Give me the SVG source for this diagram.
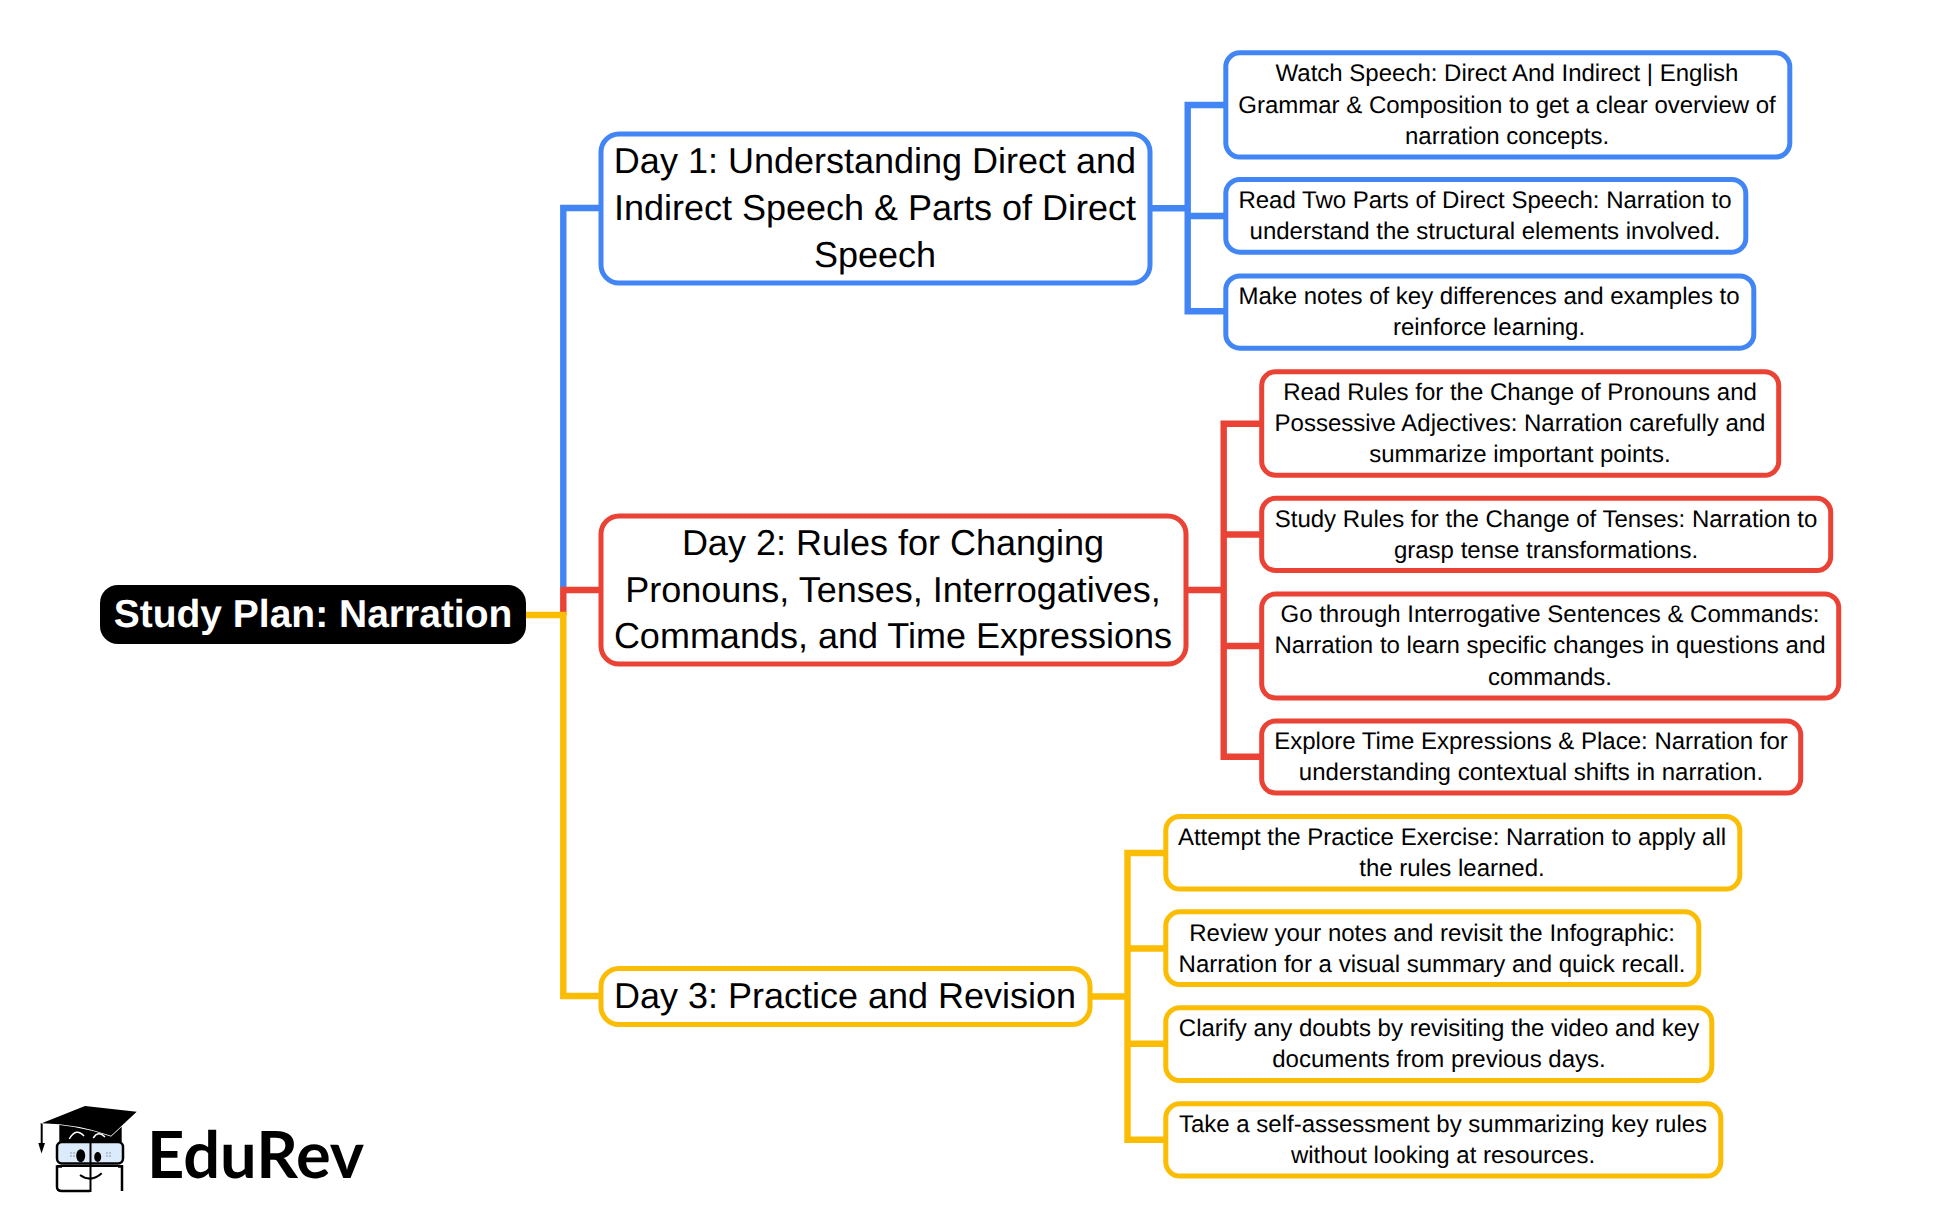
<svg xmlns="http://www.w3.org/2000/svg" width="1942" height="1229" viewBox="0 0 1942 1229">
<style>
text{font-family:"Liberation Sans",Arial,sans-serif;text-anchor:middle;fill:#000;text-rendering:geometricPrecision}
.c{font-size:24px}.d{font-size:36px}
.r{font-size:39px;font-weight:700;fill:#fff}
rect{fill:#fff;stroke-width:5}
.conn path{fill:none;stroke-width:6.400;stroke-linejoin:miter}
.b rect{stroke:#4285f4}.e rect{stroke:#ea4335}.y rect{stroke:#fbbc04}
</style>
<rect width="1942" height="1229" style="fill:#fff;stroke:none"/>
<g id="root"><rect x="100" y="585" width="426" height="59" rx="18" style="fill:#000;stroke:none"/><text class="r" x="313" y="627">Study Plan: Narration</text></g>
<g id="day1" class="b"><rect x="601" y="134" width="549" height="149" rx="18"/><text class="d" x="875" y="173">Day 1: Understanding Direct and</text><text class="d" x="875" y="220">Indirect Speech &amp; Parts of Direct</text><text class="d" x="875" y="267">Speech</text></g>
<g id="day2" class="e"><rect x="601" y="516" width="585" height="148" rx="18"/><text class="d" x="893" y="555">Day 2: Rules for Changing</text><text class="d" x="893" y="602">Pronouns, Tenses, Interrogatives,</text><text class="d" x="893" y="648">Commands, and Time Expressions</text></g>
<g id="day3" class="y"><rect x="601" y="968.500" width="489" height="56" rx="18"/><text class="d" x="845" y="1008">Day 3: Practice and Revision</text></g>
<g id="n1" class="b"><rect x="1225.800" y="52.800" width="564" height="104.200" rx="14"/><text class="c" x="1507" y="81">Watch Speech: Direct And Indirect | English</text><text class="c" x="1507" y="112.500">Grammar &amp; Composition to get a clear overview of</text><text class="c" x="1507" y="144">narration concepts.</text></g>
<g id="n2" class="b"><rect x="1225.800" y="179.500" width="520" height="72.700" rx="14"/><text class="c" x="1485" y="208">Read Two Parts of Direct Speech: Narration to</text><text class="c" x="1485" y="239">understand the structural elements involved.</text></g>
<g id="n3" class="b"><rect x="1225.800" y="276" width="528" height="72.200" rx="14"/><text class="c" x="1489" y="304">Make notes of key differences and examples to</text><text class="c" x="1489" y="335">reinforce learning.</text></g>
<g id="n4" class="e"><rect x="1261.700" y="371.700" width="517" height="103.600" rx="14"/><text class="c" x="1520" y="400">Read Rules for the Change of Pronouns and</text><text class="c" x="1520" y="431">Possessive Adjectives: Narration carefully and</text><text class="c" x="1520" y="462">summarize important points.</text></g>
<g id="n5" class="e"><rect x="1261.700" y="498.300" width="569" height="72.200" rx="14"/><text class="c" x="1546" y="527">Study Rules for the Change of Tenses: Narration to</text><text class="c" x="1546" y="558">grasp tense transformations.</text></g>
<g id="n6" class="e"><rect x="1261.700" y="594" width="577" height="104" rx="14"/><text class="c" x="1550" y="622">Go through Interrogative Sentences &amp; Commands:</text><text class="c" x="1550" y="653">Narration to learn specific changes in questions and</text><text class="c" x="1550" y="685">commands.</text></g>
<g id="n7" class="e"><rect x="1261.700" y="721" width="539" height="72" rx="14"/><text class="c" x="1531" y="749">Explore Time Expressions &amp; Place: Narration for</text><text class="c" x="1531" y="780">understanding contextual shifts in narration.</text></g>
<g id="n8" class="y"><rect x="1165.800" y="816.500" width="574" height="72.500" rx="14"/><text class="c" x="1452" y="845">Attempt the Practice Exercise: Narration to apply all</text><text class="c" x="1452" y="876">the rules learned.</text></g>
<g id="n9" class="y"><rect x="1165.800" y="911.800" width="533" height="72.700" rx="14"/><text class="c" x="1432" y="941">Review your notes and revisit the Infographic:</text><text class="c" x="1432" y="972">Narration for a visual summary and quick recall.</text></g>
<g id="n10" class="y"><rect x="1165.800" y="1007.700" width="546" height="72.800" rx="14"/><text class="c" x="1439" y="1036">Clarify any doubts by revisiting the video and key</text><text class="c" x="1439" y="1067">documents from previous days.</text></g>
<g id="n11" class="y"><rect x="1165.800" y="1103.800" width="555" height="72.200" rx="14"/><text class="c" x="1443" y="1132">Take a self-assessment by summarizing key rules</text><text class="c" x="1443" y="1163">without looking at resources.</text></g>
<g id="connectors" class="conn">
<path d="M563.300 587V208H603M1150 208.300H1187.700M1228 105H1187.700V311.300H1228M1187.700 216H1228" stroke="#4285f4"/>
<path d="M563.300 615V590H603M1186 590H1223.700M1264 423.700H1223.700V756.700H1264M1223.700 534.500H1264M1223.700 646H1264" stroke="#ea4335"/>
<path d="M526 615H563.300V996H603M1090 996.500H1127.500M1168 853H1127.500V1139.700H1168M1127.500 948.500H1168M1127.500 1043.700H1168" stroke="#fbbc04"/>
</g>
<g id="logo">
<path d="M41.700 1123V1143" stroke="#000" stroke-width="2" fill="none"/>
<path d="M38.300 1143L45 1143L41.500 1153.500Z" fill="#000"/>
<path d="M59.300 1124H121.700V1142H59.300Z" fill="#000"/>
<path d="M69.300 1139Q76 1127 84 1136M93.300 1138Q98 1130 105 1137" fill="none" stroke="#fff" stroke-width="1.500"/>
<path d="M41.700 1123.300L85 1106L136.700 1111.700L111 1135.700Q78 1124 41.700 1123.300Z" fill="#000" stroke="#fff" stroke-width="1.500" paint-order="stroke"/>
<rect x="57" y="1142" width="66" height="21.500" rx="5" style="fill:#dcebfb;stroke:#000;stroke-width:2.500"/>
<path d="M62 1166.500H57V1187Q57 1191 62 1191H90M118 1166.500H122V1191" fill="none" stroke="#000" stroke-width="2.500"/>
<path d="M57 1166H123" stroke="#000" stroke-width="2" fill="none"/>
<path d="M90.500 1140V1192" stroke="#000" stroke-width="2"/>
<path d="M80 1175Q91 1183 101.700 1173.300" fill="none" stroke="#000" stroke-width="2"/>
<ellipse cx="80.700" cy="1155.700" rx="4.500" ry="6.500" fill="#000"/><ellipse cx="97.700" cy="1157" rx="3.500" ry="5" fill="#000"/>
<path d="M70 1153H75M70 1156H75M106 1153H111M106 1156H111" stroke="#a8b6c2" stroke-width="1.500" stroke-dasharray="2 1"/>
<text x="147" y="1178.300" style="font-family:Lato,sans-serif;font-weight:700;font-size:65px;text-anchor:start">EduRev</text>
</g>
</svg>
